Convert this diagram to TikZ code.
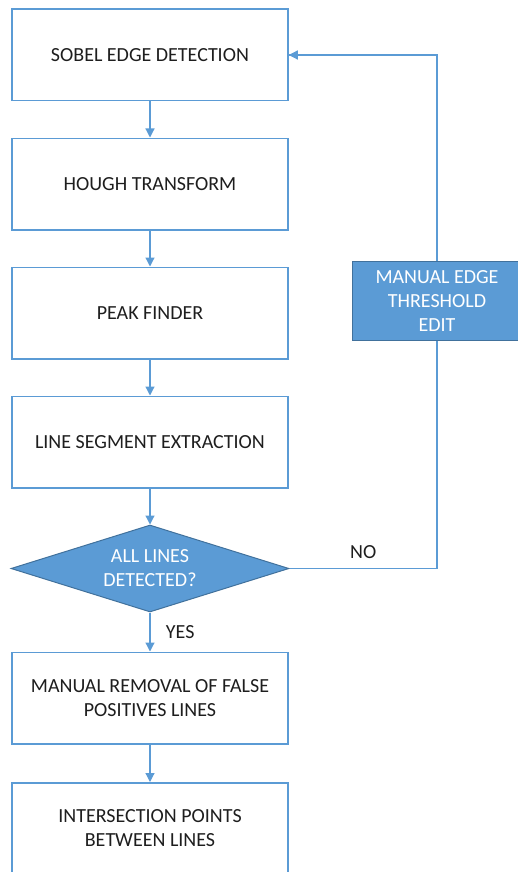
\documentclass[tikz,border=0pt]{standalone}
\usepackage{fontspec}
\setmainfont{Carlito}
\definecolor{OfficeBlue}{RGB}{91,155,213}
\definecolor{OfficeBlueDark}{RGB}{65,113,156}
\definecolor{TextGrey}{RGB}{30,30,30}
\usetikzlibrary{arrows.meta,positioning,shapes.geometric}

\begin{document}
\begin{tikzpicture}[x=1pt, y=1pt, node distance=36pt,
  every node/.style={align=center, font=\fontsize{20pt}{24pt}\selectfont, text=TextGrey},
  procbox/.style={draw=OfficeBlue, line width=1.5pt, fill=white, minimum width=276pt, minimum height=91.5pt},
  editbox/.style={draw=OfficeBlueDark, line width=1pt, fill=OfficeBlue, text=white, minimum width=170pt, minimum height=79pt},
  checkbox/.style={diamond, aspect=3.2, inner sep=0pt, draw=OfficeBlueDark, line width=1pt, fill=OfficeBlue, text=white, minimum width=278pt, minimum height=87pt},
  flow/.style={draw=OfficeBlue, line width=1.2pt, -{Triangle[width=9pt,length=9pt]}},
  wire/.style={draw=OfficeBlue, line width=1.2pt}]
\useasboundingbox (0,0) rectangle (517,-872);

\node[procbox] (sobel) at (150,-55) {SOBEL EDGE DETECTION};
\node[procbox, below=of sobel] (hough) {HOUGH TRANSFORM};
\node[procbox, below=of hough] (peak) {PEAK FINDER};
\node[procbox, below=of peak] (segment) {LINE SEGMENT EXTRACTION};
\node[checkbox, below=of segment] (check) {ALL LINES\\DETECTED?};
\node[procbox, below=39pt of check] (removal) {MANUAL REMOVAL OF FALSE\\POSITIVES LINES};
\node[procbox, below=37.5pt of removal] (inter) {INTERSECTION POINTS\\BETWEEN LINES};

% feedback path, passes behind the edit box
\draw[wire] (check.east) -| node[pos=0.25, above=6pt] {NO} (437,-301) |- (sobel.east);
\node[editbox] (edit) at (437,-301) {MANUAL EDGE\\THRESHOLD\\EDIT};
\draw[flow] (edit.north) |- (sobel.east);

\draw[flow] (sobel) -- (hough);
\draw[flow] (hough) -- (peak);
\draw[flow] (peak) -- (segment);
\draw[flow] (segment) -- (check);
\draw[flow] (check) -- node[right=12pt] {YES} (removal);
\draw[flow] (removal) -- (inter);
\end{tikzpicture}
\end{document}
